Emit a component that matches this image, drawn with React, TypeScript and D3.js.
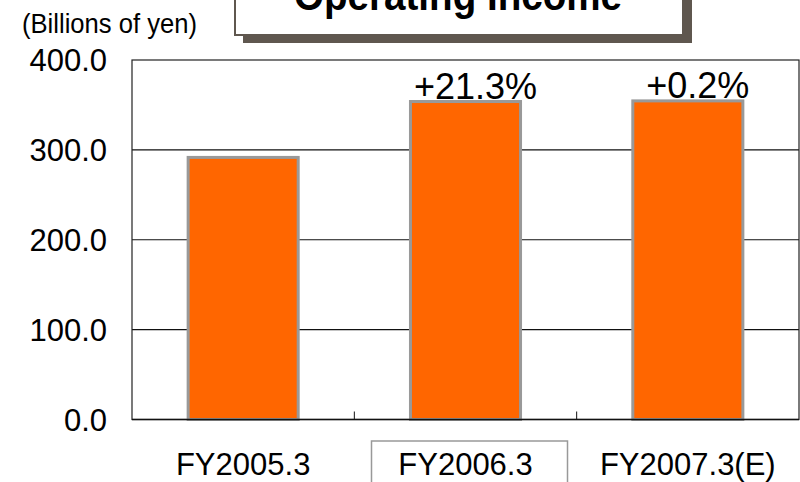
import React from "react";
import * as d3 from "d3";

const categories = ["FY2005.3", "FY2006.3", "FY2007.3(E)"];
const values = [291.6, 353.8, 354.5];
const growthLabels = ["", "+21.3%", "+0.2%"];
const yTicks = [0, 100, 200, 300, 400];

const W = 800;
const H = 482;
const margin = { top: 60, right: 1, bottom: 62.5, left: 132 };
const FONT = "'Liberation Sans', Arial, sans-serif";

export default function App() {
  const innerW = W - margin.left - margin.right;
  const innerH = H - margin.top - margin.bottom;

  const x = d3.scaleBand().domain(categories).range([0, innerW]).paddingInner(0).paddingOuter(0);
  const y = d3.scaleLinear().domain([0, 400]).range([innerH, 0]);
  const barW = x.bandwidth() * 0.495;

  return (
    <svg
      width={W}
      height={H}
      style={{ position: "absolute", left: 0, top: 0, background: "#fff" }}
      fontFamily={FONT}
    >
      {/* title box + shadow */}
      <rect x={243} y={-20} width={449} height={63} fill="#5f574f" />
      <rect x={235} y={-20} width={448} height={55} fill="#fff" stroke="#5f574f" strokeWidth={2} />
      <text x={458} y={10} textAnchor="middle" fontSize={42} fontWeight="bold" textLength={328} lengthAdjust="spacingAndGlyphs">
        Operating Income
      </text>

      <text x={22} y={33} fontSize={28} textLength={175} lengthAdjust="spacingAndGlyphs">
        (Billions of yen)
      </text>

      <g transform={`translate(${margin.left},${margin.top})`}>
        {yTicks.slice(1, 4).map((t) => (
          <line key={t} x1={0} x2={innerW} y1={y(t)} y2={y(t)} stroke="#111" strokeWidth={1.2} />
        ))}
        <rect x={0} y={0} width={innerW} height={innerH} fill="none" stroke="#222" strokeWidth={1.2} />

        {categories.map((c, i) => {
          const cx = (x(c) as number) + x.bandwidth() / 2;
          return (
            <rect
              key={c}
              x={cx - barW / 2}
              y={y(values[i])}
              width={barW}
              height={innerH - y(values[i])}
              fill="#ff6600"
              stroke="#999999"
              strokeWidth={3}
            />
          );
        })}

        <line x1={0} x2={innerW} y1={innerH} y2={innerH} stroke="#111" strokeWidth={1.5} />
        {categories.slice(1).map((c) => (
          <line key={c} x1={x(c) as number} x2={x(c) as number} y1={innerH} y2={innerH - 8} stroke="#111" strokeWidth={1} />
        ))}

        {categories.map((c, i) =>
          growthLabels[i] ? (
            <text
              key={c}
              x={(x(c) as number) + x.bandwidth() / 2 + 10}
              y={y(values[i]) - 3}
              textAnchor="middle"
              fontSize={36}
              fill="#000"
            >
              {growthLabels[i]}
            </text>
          ) : null
        )}

        {yTicks.map((t) => (
          <text key={t} x={-25} y={y(t) + 11} textAnchor="end" fontSize={31} fill="#000">
            {t.toFixed(1)}
          </text>
        ))}

        <rect
          x={(x(categories[1]) as number) + x.bandwidth() / 2 - 94}
          y={innerH + 21.5}
          width={196}
          height={60}
          fill="none"
          stroke="#999"
          strokeWidth={1.5}
        />

        {categories.map((c) => (
          <text
            key={c}
            x={(x(c) as number) + x.bandwidth() / 2}
            y={innerH + 55}
            textAnchor="middle"
            fontSize={31}
            fill="#000"
          >
            {c}
          </text>
        ))}
      </g>
    </svg>
  );
}
